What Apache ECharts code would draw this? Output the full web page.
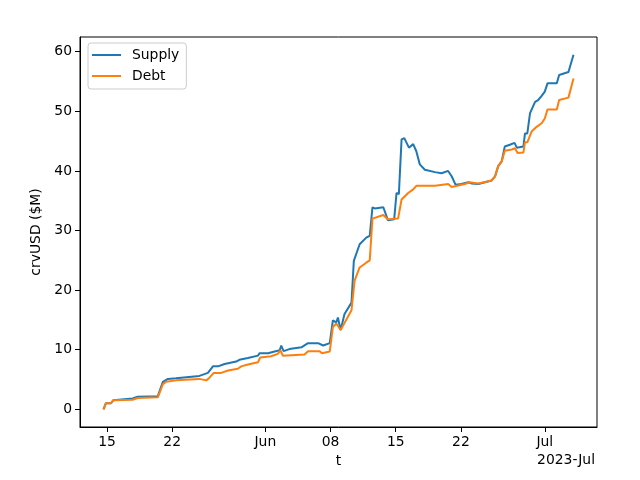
<!DOCTYPE html>
<html>
<head>
<meta charset="utf-8">
<script src="https://cdn.jsdelivr.net/npm/echarts@6/dist/echarts.min.js"></script>
<style>html,body{margin:0;padding:0;background:#fff}#chart{width:640px;height:480px}</style>
</head>
<body>
<div id="chart"></div>
<script>
const supplyDates = ['2023-05-14T15:00','2023-05-14T21:00','2023-05-15T10:00','2023-05-15T16:00','2023-05-17T18:00','2023-05-18T07:00','2023-05-20T11:00','2023-05-20T15:00','2023-05-21T00:00','2023-05-21T13:00','2023-05-22T10:00','2023-05-22T14:00','2023-05-24T22:00','2023-05-25T02:00','2023-05-25T11:00','2023-05-25T20:00','2023-05-26T09:00','2023-05-26T22:00','2023-05-27T15:00','2023-05-28T21:00','2023-05-29T05:00','2023-05-30T03:00','2023-05-31T05:00','2023-05-31T09:00','2023-06-01T07:00','2023-06-02T00:00','2023-06-02T13:00','2023-06-02T17:00','2023-06-02T23:00','2023-06-03T14:00','2023-06-04T21:00','2023-06-05T14:00','2023-06-06T16:00','2023-06-07T05:00','2023-06-07T22:00','2023-06-08T06:00','2023-06-08T15:00','2023-06-08T19:00','2023-06-09T02:00','2023-06-09T12:00','2023-06-10T06:00','2023-06-10T12:00','2023-06-11T03:00','2023-06-11T20:00','2023-06-12T05:00','2023-06-12T12:00','2023-06-12T18:00','2023-06-13T16:00','2023-06-14T04:00','2023-06-14T20:00','2023-06-15T02:00','2023-06-15T08:00','2023-06-15T15:00','2023-06-15T22:00','2023-06-16T10:00','2023-06-16T21:00','2023-06-17T05:00','2023-06-17T14:00','2023-06-18T03:00','2023-06-19T05:00','2023-06-19T22:00','2023-06-20T15:00','2023-06-21T00:00','2023-06-21T10:00','2023-06-22T01:00','2023-06-22T19:00','2023-06-23T03:00','2023-06-23T21:00','2023-06-25T07:00','2023-06-25T16:00','2023-06-26T00:00','2023-06-26T09:00','2023-06-26T17:00','2023-06-27T06:00','2023-06-27T18:00','2023-06-28T00:00','2023-06-28T17:00','2023-06-28T21:00','2023-06-29T03:00','2023-06-29T10:00','2023-06-29T23:00','2023-06-30T07:00','2023-06-30T16:00','2023-07-01T00:00','2023-07-01T07:00','2023-07-02T07:00','2023-07-02T13:00','2023-07-03T13:00','2023-07-04T02:00'];
const supplyValues = [0.0,1.0,1.0,1.5,1.8,2.1,2.2,2.3,4.6,5.1,5.2,5.4,5.6,5.4,5.9,6.1,7.2,7.2,7.6,8.0,8.3,8.6,9.0,9.4,9.4,9.7,9.9,10.7,9.75,10.1,10.4,11.1,11.1,10.7,11.1,14.9,14.6,15.4,13.3,16.0,17.9,24.9,27.7,28.8,29.1,33.9,33.7,33.9,31.7,31.9,36.3,36.1,45.3,45.5,43.9,44.5,43.3,41.1,40.2,39.8,39.6,40.0,39.1,37.7,37.8,38.1,37.9,37.8,38.4,39.1,40.8,41.6,44.1,44.4,44.7,43.9,44.1,46.3,46.3,49.7,51.6,51.9,52.6,53.3,54.7,54.7,56.1,56.6,59.5];

const debtDates = ['2023-05-14T15:00','2023-05-14T21:00','2023-05-15T10:00','2023-05-15T16:00','2023-05-17T18:00','2023-05-18T07:00','2023-05-20T11:00','2023-05-20T15:00','2023-05-21T00:00','2023-05-21T08:00','2023-05-22T10:00','2023-05-24T22:00','2023-05-25T02:00','2023-05-25T16:00','2023-05-26T00:00','2023-05-26T11:00','2023-05-27T06:00','2023-05-28T00:00','2023-05-29T01:00','2023-05-29T10:00','2023-05-30T03:00','2023-05-31T05:00','2023-05-31T11:00','2023-06-01T15:00','2023-06-02T08:00','2023-06-02T15:00','2023-06-02T21:00','2023-06-05T05:00','2023-06-05T14:00','2023-06-06T20:00','2023-06-07T02:00','2023-06-07T22:00','2023-06-08T02:00','2023-06-08T06:00','2023-06-08T15:00','2023-06-09T02:00','2023-06-10T06:00','2023-06-10T14:00','2023-06-11T03:00','2023-06-11T20:00','2023-06-12T05:00','2023-06-12T12:00','2023-06-13T16:00','2023-06-14T03:00','2023-06-15T06:00','2023-06-15T15:00','2023-06-16T08:00','2023-06-16T21:00','2023-06-17T05:00','2023-06-19T05:00','2023-06-20T15:00','2023-06-21T00:00','2023-06-22T10:00','2023-06-22T22:00','2023-06-23T21:00','2023-06-25T07:00','2023-06-25T16:00','2023-06-26T00:00','2023-06-26T09:00','2023-06-26T17:00','2023-06-27T11:00','2023-06-27T19:00','2023-06-28T02:00','2023-06-28T17:00','2023-06-28T21:00','2023-06-29T03:00','2023-06-29T14:00','2023-06-30T03:00','2023-06-30T16:00','2023-07-01T00:00','2023-07-01T07:00','2023-07-02T07:00','2023-07-02T13:00','2023-07-03T13:00','2023-07-04T02:00'];
const debtValues = [0.0,1.0,1.0,1.5,1.6,1.9,2.0,2.1,4.2,4.6,4.85,5.1,4.85,4.85,5.3,6.1,6.1,6.5,6.8,7.2,7.5,7.9,8.7,8.9,9.3,9.9,9.0,9.2,9.75,9.75,9.4,9.7,10.0,13.8,14.4,13.3,16.6,21.6,23.8,24.6,25.0,32.0,32.6,31.9,32.0,35.2,36.3,36.9,37.5,37.5,37.8,37.3,37.8,38.1,37.9,38.4,39.1,40.8,41.6,43.4,43.6,43.8,43.0,43.1,44.8,44.8,46.6,47.4,48.0,48.8,50.3,50.3,51.9,52.3,55.5];

const xTickDates = ['2023-05-15T00:00','2023-05-22T00:00','2023-06-01T00:00','2023-06-08T00:00','2023-06-15T00:00','2023-06-22T00:00','2023-07-01T00:00'];
const xTickLabels = ['15','22','Jun','08','15','22','Jul'];
const yTicks = [0,10,20,30,40,50,60];

const ts = s => new Date(s).getTime();
const xTickTs = xTickDates.map(ts);
const allT = supplyDates.concat(debtDates).map(ts);
const tMin = Math.min(...allT), tMax = Math.max(...allT);
const tPad = (tMax - tMin) * 0.05;
const allV = supplyValues.concat(debtValues);
const vMin = Math.min(...allV), vMax = Math.max(...allV);
const vPad = (vMax - vMin) * 0.05;

const font = 'DejaVu Sans';
const fs = 13.9;
const chart = echarts.init(document.getElementById('chart'), null, {renderer: 'canvas'});
chart.setOption({
  animation: false,
  backgroundColor: '#fff',
  textStyle: {fontFamily: font},
  grid: {left: 80, right: 43, top: 37, bottom: 53, show: true, borderColor: '#000', borderWidth: 1, backgroundColor: 'transparent'},
  legend: {
    orient: 'vertical', left: 88, top: 43, padding: [5, 7, 6, 4],
    itemGap: 7, itemWidth: 29, itemHeight: 2, icon: 'rect',
    borderColor: '#cccccc', borderWidth: 1, borderRadius: 3,
    backgroundColor: 'rgba(255,255,255,0.8)',
    textStyle: {fontFamily: font, fontSize: fs, color: '#000', padding: [0, 0, 0, 6]},
    data: ['Supply', 'Debt']
  },
  xAxis: {
    type: 'value', min: tMin - tPad, max: tMax + tPad, scale: true,
    name: 't', nameLocation: 'middle', nameGap: 27,
    nameTextStyle: {fontFamily: font, fontSize: fs, color: '#000'},
    axisLine: {show: true, onZero: false, lineStyle: {color: '#000', width: 1}},
    axisTick: {show: true, inside: false, length: 5, lineStyle: {color: '#000'}, customValues: xTickTs},
    axisLabel: {customValues: xTickTs, fontFamily: font, fontSize: fs, color: '#000', margin: 8,
      formatter: v => { const i = xTickTs.indexOf(v); return i >= 0 ? xTickLabels[i] : ''; }},
    splitLine: {show: false}
  },
  yAxis: {
    type: 'value', min: vMin - vPad, max: vMax + vPad, scale: true,
    name: 'crvUSD ($M)', nameLocation: 'middle', nameGap: 36,
    nameTextStyle: {fontFamily: font, fontSize: fs, color: '#000'},
    axisLine: {show: true, onZero: false, lineStyle: {color: '#000', width: 1}},
    axisTick: {show: true, inside: false, length: 5, lineStyle: {color: '#000'}, customValues: yTicks},
    axisLabel: {customValues: yTicks, fontFamily: font, fontSize: fs, color: '#000', margin: 8},
    splitLine: {show: false}
  },
  graphic: [{
    type: 'text', right: 45, top: 453,
    style: {text: '2023-Jul', font: fs + 'px "DejaVu Sans"', fill: '#000'}
  }],
  series: [
    {name: 'Supply', type: 'line', symbol: 'none', color: '#1f77b4', lineStyle: {width: 2, color: '#1f77b4'},
     data: supplyDates.map((d, i) => [ts(d), supplyValues[i]])},
    {name: 'Debt', type: 'line', symbol: 'none', color: '#ff7f0e', lineStyle: {width: 2, color: '#ff7f0e'},
     data: debtDates.map((d, i) => [ts(d), debtValues[i]])}
  ]
});
</script>
</body>
</html>
